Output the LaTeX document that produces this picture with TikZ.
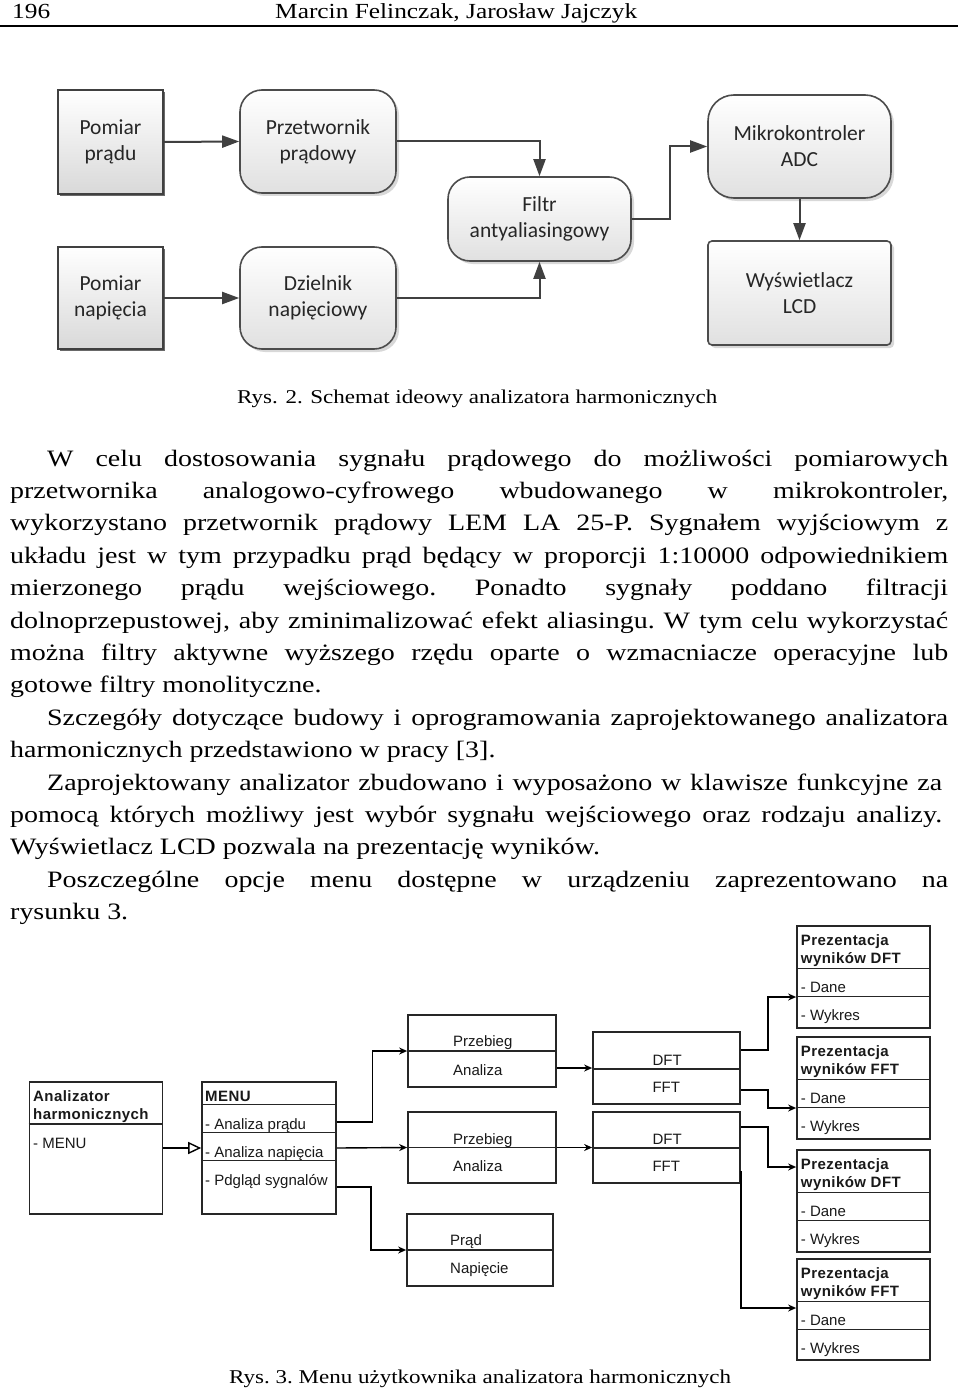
\documentclass[tikz,border=0pt]{standalone}
\usepackage{fontspec}
\setmainfont{Liberation Serif}
\newfontfamily\bodyfont[FakeStretch=1.19]{Liberation Serif}
\newfontfamily\headfont[FakeStretch=1.18]{Liberation Serif}
\newfontfamily\diafont{Carlito}
\newfontfamily\arialfont{Liberation Sans}
\newfontfamily\arialbfont[LetterSpace=3]{Liberation Sans}
\usetikzlibrary{arrows.meta,shadows,calc}
\begin{document}
\begin{tikzpicture}[x=1pt,y=-1pt,
  hd/.style={anchor=base west,inner sep=0pt,font=\headfont\fontsize{21.5pt}{24pt}\selectfont},
  figcap/.style={anchor=base west,inner sep=0pt,font=\headfont\fontsize{19.5pt}{23pt}\selectfont},
  tl/.style={anchor=base west,inner sep=0pt,font=\bodyfont\fontsize{23.5pt}{32.4pt}\selectfont},
  sq/.style={draw=black!75,line width=1.6pt,top color=white,bottom color=black!15,
    minimum width=105pt,minimum height=104pt,align=center,inner sep=0pt,
    font=\diafont\fontsize{21.5pt}{26pt}\selectfont,text=black!85,
    drop shadow={shadow xshift=2pt,shadow yshift=-2pt,fill=black!65,opacity=0.9}},
  rb/.style={draw=black!70,line width=1.6pt,rounded corners=22pt,top color=white,bottom color=black!12,
    align=center,inner sep=0pt,font=\diafont\fontsize{21.5pt}{26pt}\selectfont,text=black!85,
    drop shadow={shadow xshift=3pt,shadow yshift=-3pt,fill=black!30,opacity=0.5}},
  darr/.style={draw=black!75,line width=2pt,-{Triangle[length=17pt,width=12pt]}},
  ub/.style={draw=black!85,line width=1.7pt,inner sep=0pt},
  udiv/.style={draw=black!85,line width=1.5pt},
  ul/.style={anchor=base west,inner sep=0pt,font=\arialfont\fontsize{15pt}{18pt}\selectfont,text=black!90},
  ulb/.style={anchor=base west,inner sep=0pt,font=\arialbfont\bfseries\fontsize{15pt}{18pt}\selectfont,text=black!90},
  uarr/.style={draw=black,line width=1.4pt,-{Stealth[length=8pt,width=7pt]}},
  uopen/.style={draw=black,line width=1.4pt,-{Triangle[open,length=13pt,width=12pt]}}
]
\useasboundingbox (0,0) rectangle (960,1391);
\fill[white] (0,0) rectangle (960,1391);

% header
\node[hd] (pg) at (12,19) {196};
\node[hd] (au) at (275,19) {Marcin Felinczak, Jarosław Jajczyk};
\draw[line width=2.5pt] (0,26) -- (958,26);

% ---- Figure 2
\node[sq] (pp) at (110.5,142) {Pomiar\\prądu};
\node[sq,minimum height=102pt] (pn) at (110.5,298) {Pomiar\\napięcia};
\node[rb,minimum width=156pt,minimum height=103pt] (pt) at (318,141.5) {Przetwornik\\prądowy};
\node[rb,minimum width=156pt,minimum height=102pt] (dz) at (318,298) {Dzielnik\\napięciowy};
\node[rb,minimum width=183pt,minimum height=84pt] (ft) at (539.5,219) {Filtr\\antyaliasingowy};
\node[rb,rounded corners=26pt,minimum width=183pt,minimum height=103pt] (mk) at (799.5,146.5) {Mikrokontroler\\ADC};
\node[rb,rounded corners=4pt,minimum width=183pt,minimum height=104pt] (lcd) at (799.5,293) {Wyświetlacz\\LCD};

\draw[darr] (pp.east) -- (pt.west);
\draw[darr] (pn.east) -- (dz.west);
\draw[darr] (pt.east) -| (ft.north);
\draw[darr] (dz.east) -| (ft.south);
\draw[darr] (ft.east) -- ++(38,0) |- (mk.west);
\draw[darr] (mk.south) -- (lcd.north);

\node[figcap] (c2) at (237,403) {Rys. 2. Schemat ideowy analizatora harmonicznych};

% ---- text
\frenchspacing
\node[tl] (l1) at (47,466) {\makebox[901pt][s]{W celu dostosowania sygnału prądowego do możliwości pomiarowych}};
\node[tl] (l2) at (10,498.4) {\makebox[938pt][s]{przetwornika analogowo-cyfrowego wbudowanego w mikrokontroler,}};
\node[tl] (l3) at (10,530.8) {\makebox[938pt][s]{wykorzystano przetwornik prądowy LEM LA 25-P. Sygnałem wyjściowym z}};
\node[tl] (l4) at (10,563.2) {\makebox[938pt][s]{układu jest w tym przypadku prąd będący w proporcji 1:10000 odpowiednikiem}};
\node[tl] (l5) at (10,595.6) {\makebox[938pt][s]{mierzonego prądu wejściowego. Ponadto sygnały poddano filtracji}};
\node[tl] (l6) at (10,628) {\makebox[938pt][s]{dolnoprzepustowej, aby zminimalizować efekt aliasingu. W tym celu wykorzystać}};
\node[tl] (l7) at (10,660.4) {\makebox[938pt][s]{można filtry aktywne wyższego rzędu oparte o wzmacniacze operacyjne lub}};
\node[tl] (l8) at (10,692.8) {gotowe filtry monolityczne.};
\node[tl] (l9) at (47,725.2) {\makebox[901pt][s]{Szczegóły dotyczące budowy i oprogramowania zaprojektowanego analizatora}};
\node[tl] (l10) at (10,757.6) {harmonicznych przedstawiono w pracy [3].};
\node[tl] (l11) at (47,790) {\makebox[895pt][s]{Zaprojektowany analizator zbudowano i wyposażono w klawisze funkcyjne za}};
\node[tl] (l12) at (10,822.4) {\makebox[932pt][s]{pomocą których możliwy jest wybór sygnału wejściowego oraz rodzaju analizy.}};
\node[tl] (l13) at (10,854.8) {Wyświetlacz LCD pozwala na prezentację wyników.};
\node[tl] (l14) at (47,887.2) {\makebox[901pt][s]{Poszczególne opcje menu dostępne w urządzeniu zaprezentowano na}};
\node[tl] (l15) at (10,919.6) {rysunku 3.};

% ---- Figure 3
\node[ub,minimum width=133pt,minimum height=132pt] (an) at (96,1148) {};
\node[ub,minimum width=134pt,minimum height=132pt] (menu) at (269,1148) {};
\node[ub,minimum width=148pt,minimum height=72pt] (pb1) at (482,1051) {};
\node[ub,minimum width=148pt,minimum height=71pt] (pb2) at (482,1147.5) {};
\node[ub,minimum width=146pt,minimum height=72pt] (pr) at (480,1250) {};
\node[ub,minimum width=147pt,minimum height=72pt] (df1) at (666.5,1068) {};
\node[ub,minimum width=147pt,minimum height=71pt] (df2) at (666.5,1147.5) {};
\node[ub,minimum width=133pt,minimum height=102pt] (pz1) at (863.5,977) {};
\node[ub,minimum width=133pt,minimum height=102pt] (pz2) at (863.5,1088) {};
\node[ub,minimum width=133pt,minimum height=102pt] (pz3) at (863.5,1201) {};
\node[ub,minimum width=133pt,minimum height=101pt] (pz4) at (863.5,1309.5) {};

% dividers
\draw[udiv] (an.west |- 0,1124) -- (an.east |- 0,1124);
\foreach \yy in {1104.5,1132.7,1160.7} \draw[udiv] (menu.west |- 0,\yy) -- (menu.east |- 0,\yy);
\draw[udiv] (pb1.west) -- (pb1.east);
\draw[udiv] (pb2.west) -- (pb2.east);
\draw[udiv] (pr.west) -- (pr.east);
\draw[udiv] (df1.west |- 0,1069) -- (df1.east |- 0,1069);
\draw[udiv] (df2.west |- 0,1148) -- (df2.east |- 0,1148);
\foreach \n/\t in {pz1/926,pz2/1037,pz3/1150,pz4/1259} {
  \draw[udiv] (\n.west |- 0,\t+42.5) -- (\n.east |- 0,\t+42.5);
  \draw[udiv] (\n.west |- 0,\t+70.5) -- (\n.east |- 0,\t+70.5);
}

% texts
\node[ulb] (an1) at (33,1101.5) {Analizator};
\node[ulb] (an2) at (33,1119) {harmonicznych};
\node[ul] (an3) at (33,1148) {- MENU};
\node[ulb] (m0) at (205,1101) {MENU};
\node[ul] (m1) at (205,1129.3) {- Analiza prądu};
\node[ul] (m2) at (205,1157) {- Analiza napięcia};
\node[ul] (m3) at (205,1185) {- Pdgląd sygnalów};
\node[ul] (p1a) at (453,1046.7) {Przebieg};
\node[ul] (p1b) at (453,1075) {Analiza};
\node[ul] (p2a) at (453,1144) {Przebieg};
\node[ul] (p2b) at (453,1171.7) {Analiza};
\node[ul] (r1) at (450,1245.7) {Prąd};
\node[ul] (r2) at (450,1273.3) {Napięcie};
\node[ul] (d1a) at (652.3,1065) {DFT};
\node[ul] (d1b) at (652.3,1092.3) {FFT};
\node[ul] (d2a) at (652.3,1144) {DFT};
\node[ul] (d2b) at (652.3,1171) {FFT};
\foreach \n/\t/\k in {1/926/DFT,2/1037/FFT,3/1150/DFT,4/1259/FFT} {
  \node[ulb] (z\n a) at (800.7,\t+19) {Prezentacja};
  \node[ulb] (z\n b) at (800.7,\t+37.5) {wyników \k};
  \node[ul] (z\n c) at (800.7,\t+66) {- Dane};
  \node[ul] (z\n d) at (800.7,\t+94) {- Wykres};
}

% connectors
\draw[uopen] (an.east) -- (menu.west);
\draw[uarr] (menu.east |- 0,1122) -- (372.5,1122) |- (pb1.west);
\draw[uarr] (menu.east) -- (pb2.west);
\draw[uarr] (menu.east |- 0,1187) -- (371,1187) |- (pr.west);
\draw[uarr] (pb1.east |- 0,1068) -- (df1.west);
\draw[uarr] (pb2.east) -- (df2.west);
\draw[uarr] (df1.east |- 0,1050) -- (768,1050) |- (pz1.west |- 0,997);
\draw[uarr] (df1.east |- 0,1090) -- (768,1090) |- (pz2.west |- 0,1108);
\draw[uarr] (df2.east |- 0,1127) -- (768,1127) |- (pz3.west |- 0,1167);
\draw[uarr] (df2.east |- 0,1171) |- (pz4.west |- 0,1308);

\node[figcap] (c3) at (229,1383) {Rys. 3. Menu użytkownika analizatora harmonicznych};
\end{tikzpicture}
\end{document}
